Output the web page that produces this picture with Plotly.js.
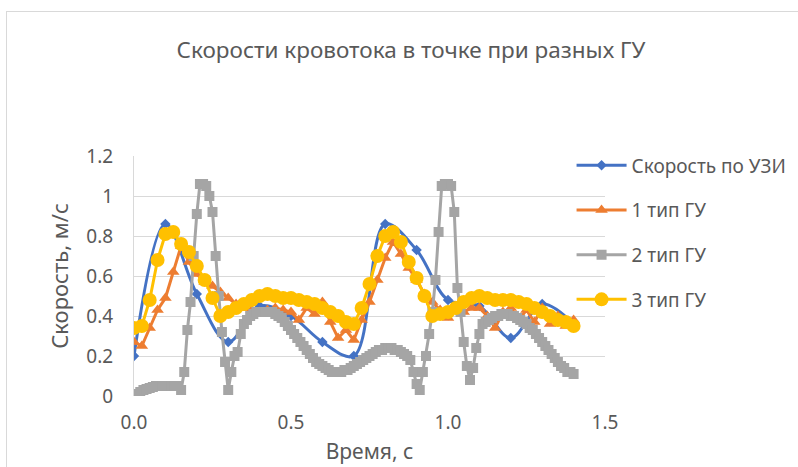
<!DOCTYPE html>
<html>
<head>
<meta charset="utf-8">
<script src="https://cdn.plot.ly/plotly-3.0.1.min.js"></script>
<style>
  html, body { margin:0; padding:0; background:#fff; }
  #wrap { position:relative; width:798px; height:467px; overflow:hidden; }
  #chart { position:absolute; left:0; top:0; width:798px; height:467px; }
  #frame { position:absolute; left:6px; top:11px; width:800px; height:470px; border:1px solid #d9d9d9; pointer-events:none; }
</style>
</head>
<body>
<div id="wrap"><div id="chart"></div><div id="frame"></div></div>
<script>
// ---- data ----
const seriesNames = ["Скорость по УЗИ", "1 тип ГУ", "2 тип ГУ", "3 тип ГУ"];

const tBlue = [0, 0.1, 0.2, 0.3, 0.4, 0.5, 0.6, 0.7, 0.8, 0.9, 1.0, 1.1, 1.2, 1.3, 1.4];
const vBlue = [0.20, 0.86, 0.51, 0.27, 0.45, 0.40, 0.27, 0.20, 0.86, 0.73, 0.48, 0.45, 0.29, 0.46, 0.36];

const tStep025 = [0, 0.025, 0.05, 0.075, 0.1, 0.125, 0.15, 0.175, 0.2, 0.225, 0.25, 0.275,
  0.3, 0.325, 0.35, 0.375, 0.4, 0.425, 0.45, 0.475, 0.5, 0.525, 0.55, 0.575,
  0.6, 0.625, 0.65, 0.675, 0.7, 0.725, 0.75, 0.775, 0.8, 0.825, 0.85, 0.875,
  0.9, 0.925, 0.95, 0.975, 1.0, 1.025, 1.05, 1.075, 1.1, 1.125, 1.15, 1.175,
  1.2, 1.225, 1.25, 1.275, 1.3, 1.325, 1.35, 1.375, 1.4];

const vOrange = [0.27, 0.25, 0.34, 0.43, 0.49, 0.62, 0.75, 0.67, 0.61, 0.57, 0.55, 0.52,
  0.49, 0.46, 0.44, 0.43, 0.42, 0.43, 0.44, 0.43, 0.42, 0.38, 0.44, 0.41,
  0.47, 0.37, 0.29, 0.33, 0.28, 0.38, 0.47, 0.58, 0.69, 0.77, 0.71, 0.64,
  0.58, 0.51, 0.47, 0.43, 0.39, 0.45, 0.42, 0.44, 0.44, 0.40, 0.34, 0.42,
  0.44, 0.38, 0.43, 0.37, 0.44, 0.36, 0.40, 0.35, 0.38];

const vYellow = [0.34, 0.35, 0.48, 0.68, 0.81, 0.82, 0.76, 0.72, 0.65, 0.58, 0.49, 0.40,
  0.42, 0.44, 0.46, 0.48, 0.50, 0.51, 0.50, 0.49, 0.49, 0.48, 0.47, 0.46,
  0.44, 0.42, 0.40, 0.37, 0.36, 0.44, 0.56, 0.70, 0.80, 0.82, 0.77, 0.67,
  0.59, 0.50, 0.40, 0.41, 0.42, 0.44, 0.47, 0.49, 0.50, 0.49, 0.48, 0.48,
  0.48, 0.47, 0.46, 0.44, 0.42, 0.40, 0.38, 0.37, 0.35];

const tGray = [0, 0.01, 0.02, 0.03, 0.04, 0.05, 0.06, 0.07, 0.08, 0.09,
  0.1, 0.11, 0.12, 0.13, 0.14, 0.15, 0.16, 0.17, 0.18, 0.19,
  0.2, 0.21, 0.22, 0.23, 0.24, 0.25, 0.26, 0.27, 0.28, 0.29,
  0.3, 0.31, 0.32, 0.33, 0.34, 0.35, 0.36, 0.37, 0.38, 0.39,
  0.4, 0.41, 0.42, 0.43, 0.44, 0.45, 0.46, 0.47, 0.48, 0.49,
  0.5, 0.51, 0.52, 0.53, 0.54, 0.55, 0.56, 0.57, 0.58, 0.59,
  0.6, 0.61, 0.62, 0.63, 0.64, 0.65, 0.66, 0.67, 0.68, 0.69,
  0.7, 0.71, 0.72, 0.73, 0.74, 0.75, 0.76, 0.77, 0.78, 0.79,
  0.8, 0.81, 0.82, 0.83, 0.84, 0.85, 0.86, 0.87, 0.88, 0.89,
  0.9, 0.91, 0.92, 0.93, 0.94, 0.95, 0.96, 0.97, 0.98, 0.99,
  1.0, 1.01, 1.02, 1.03, 1.04, 1.05, 1.06, 1.07, 1.08, 1.09,
  1.1, 1.11, 1.12, 1.13, 1.14, 1.15, 1.16, 1.17, 1.18, 1.19,
  1.2, 1.21, 1.22, 1.23, 1.24, 1.25, 1.26, 1.27, 1.28, 1.29,
  1.3, 1.31, 1.32, 1.33, 1.34, 1.35, 1.36, 1.37, 1.38, 1.39, 1.4];

const vGray = [0.00, 0.01, 0.02, 0.03, 0.035, 0.04, 0.045, 0.05, 0.05, 0.05,
  0.05, 0.05, 0.05, 0.05, 0.05, 0.03, 0.12, 0.33, 0.47, 0.70,
  0.91, 1.06, 1.06, 1.05, 1.00, 0.92, 0.70, 0.50, 0.32, 0.17,
  0.03, 0.12, 0.20, 0.22, 0.31, 0.36, 0.38, 0.40, 0.41, 0.42,
  0.42, 0.42, 0.42, 0.42, 0.42, 0.41, 0.40, 0.39, 0.37, 0.35,
  0.33, 0.31, 0.29, 0.27, 0.25, 0.23, 0.21, 0.19, 0.17, 0.16,
  0.15, 0.14, 0.13, 0.12, 0.12, 0.12, 0.12, 0.13, 0.13, 0.14,
  0.15, 0.16, 0.17, 0.18, 0.19, 0.20, 0.21, 0.22, 0.23, 0.23,
  0.24, 0.24, 0.24, 0.23, 0.23, 0.22, 0.21, 0.20, 0.18, 0.12,
  0.06, 0.03, 0.12, 0.20, 0.31, 0.42, 0.58, 0.82, 1.05, 1.06,
  1.06, 1.05, 0.92, 0.54, 0.42, 0.27, 0.15, 0.08, 0.14, 0.24,
  0.31, 0.36, 0.37, 0.38, 0.39, 0.40, 0.40, 0.41, 0.41, 0.41,
  0.40, 0.40, 0.39, 0.38, 0.37, 0.36, 0.34, 0.33, 0.31, 0.29,
  0.27, 0.25, 0.23, 0.21, 0.19, 0.17, 0.15, 0.14, 0.12, 0.12, 0.11];

const xTickVals = [0, 0.5, 1.0, 1.5];
const xTickText = ["0.0", "0.5", "1.0", "1.5"];
const yTickVals = [0, 0.2, 0.4, 0.6, 0.8, 1, 1.2];
const yTickText = ["0", "0.2", "0.4", "0.6", "0.8", "1", "1.2"];

// ---- chart ----
const FONT = "Noto Sans, Open Sans, sans-serif";
const TXT = "#595959";

const traces = [
  { x: tBlue, y: vBlue, name: seriesNames[0], type: "scatter", mode: "lines+markers",
    line: { color: "#4472C4", width: 3, shape: "spline", smoothing: 1 },
    marker: { symbol: "diamond", size: 8, color: "#4472C4" }, legendgroup: "a" },
  { x: tStep025, y: vOrange, name: seriesNames[1], type: "scatter", mode: "lines+markers",
    line: { color: "#ED7D31", width: 3 },
    marker: { symbol: "triangle-up", size: 11, color: "#ED7D31" }, legendgroup: "b" },
  { x: tGray, y: vGray, name: seriesNames[2], type: "scatter", mode: "lines+markers",
    line: { color: "#A5A5A5", width: 3 },
    marker: { symbol: "square", size: 10, color: "#A5A5A5" }, legendgroup: "c" },
  { x: tStep025, y: vYellow, name: seriesNames[3], type: "scatter", mode: "lines+markers",
    line: { color: "#FFC000", width: 3 },
    marker: { symbol: "circle", size: 14, color: "#FFC000" }, legendgroup: "d" }
];

const layout = {
  width: 798, height: 467,
  paper_bgcolor: "#ffffff", plot_bgcolor: "#ffffff",
  margin: { l: 134, r: 193, t: 156, b: 71, pad: 0, autoexpand: false },
  font: { family: FONT, color: TXT, size: 19 },
  title: { text: "Скорости кровотока в точке при разных ГУ", x: 0.515, xref: "container", xanchor: "center",
           y: 0.893, yref: "container", yanchor: "middle", font: { size: 22.5, color: TXT, family: FONT } },
  xaxis: {
    range: [0, 1.5], tickvals: xTickVals, ticktext: xTickText, showgrid: false, zeroline: false,
    showline: false, ticks: "", ticklabelstandoff: 13, tickfont: { size: 19, color: TXT },
    title: { text: "Время, с", font: { size: 21, color: TXT }, standoff: 10 }
  },
  yaxis: {
    range: [0, 1.2], tickvals: yTickVals, ticktext: yTickText, showgrid: true, gridcolor: "#d9d9d9", gridwidth: 1,
    zeroline: false, showline: true, linecolor: "#d9d9d9", linewidth: 1, ticks: "", ticklabelstandoff: 16,
    tickfont: { size: 19, color: TXT },
    title: { text: "Скорость, м/с", font: { size: 22, color: TXT }, standoff: 11 }
  },
  showlegend: true,
  legend: { x: 0.929, xanchor: "left", y: 1.04, yanchor: "top", bgcolor: "rgba(0,0,0,0)",
            font: { size: 19, color: TXT }, tracegroupgap: 17, itemwidth: 50, traceorder: "grouped" }
};

Plotly.newPlot("chart", traces, layout, { displayModeBar: false, staticPlot: true });
</script>
</body>
</html>
